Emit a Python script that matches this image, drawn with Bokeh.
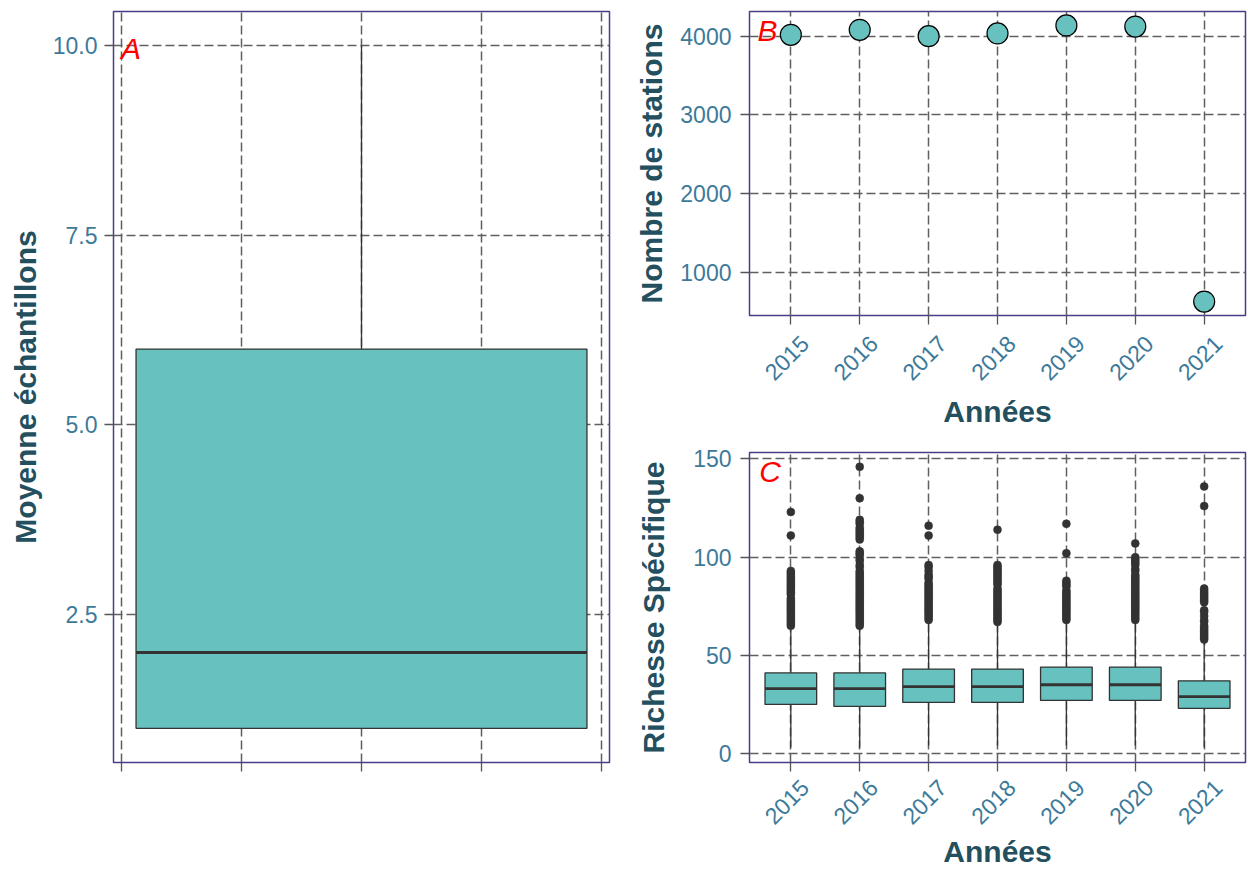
import math

from bokeh.embed import file_html
from bokeh.layouts import column, row
from bokeh.models import (FixedTicker, Label, LinearAxis, PrintfTickFormatter,
                          Range1d)
from bokeh.plotting import figure
from bokeh.resources import INLINE

FONT = "Liberation Sans"
FILL = "#66C1BF"
DARK = "#333333"
FRAME = "#483D8B"
GRID = "#5F5F5F"
TICK_TXT = "#3D7A99"
TITLE_TXT = "#234F5E"

# ---- Panel A: mean number of samples (single box) ----
a_x = [0.0]
a_low = [1.0]
a_q1 = [1.0]
a_med = [2.0]
a_q3 = [6.0]
a_high = [10.0]
a_yticks = [2.5, 5.0, 7.5, 10.0]
a_xticks = [-0.4, -0.2, 0.0, 0.2, 0.4]

# ---- Panel B: number of stations per year ----
years = [2015, 2016, 2017, 2018, 2019, 2020, 2021]
stations = [4015, 4078, 3998, 4033, 4135, 4120, 632]
b_yticks = [1000, 2000, 3000, 4000]

# ---- Panel C: species richness per year ----
c_q1 = [25, 24, 26, 26, 27, 27, 23]
c_med = [33, 33, 34, 34, 35, 35, 29]
c_q3 = [41, 41, 43, 43, 44, 44, 37]
c_low = [3, 3, 4, 4, 4, 4, 3]
c_high = [64, 64, 67, 66, 67, 67, 57]
c_yticks = [0, 50, 100, 150]
out_2015 = [65, 66, 67, 68, 69, 70, 71, 72, 73, 74, 75, 76, 77, 78, 79, 81, 82,
            83, 84, 85, 86, 87, 88, 89, 90, 91, 92, 93, 111, 123]
out_2016 = [65, 66, 67, 68, 69, 70, 71, 72, 73, 74, 75, 76, 77, 78, 79, 80, 81,
            82, 83, 84, 85, 86, 87, 88, 89, 90, 91, 92, 93, 95, 96, 98, 99, 101,
            102, 103, 109, 110, 111, 112, 113, 114, 115, 117, 118, 119, 130, 146]
out_2017 = [68, 69, 70, 71, 72, 73, 74, 75, 76, 77, 78, 79, 80, 81, 82, 83, 84,
            85, 86, 87, 89, 90, 91, 93, 95, 96, 111, 116]
out_2018 = [67, 68, 69, 70, 71, 72, 73, 74, 75, 76, 77, 78, 79, 80, 81, 82, 83,
            84, 86, 87, 88, 89, 90, 91, 92, 93, 94, 95, 96, 114]
out_2019 = [68, 69, 70, 71, 72, 73, 74, 75, 76, 77, 78, 79, 80, 81, 82, 83, 85,
            86, 87, 88, 102, 117]
out_2020 = [68, 69, 70, 71, 72, 73, 74, 75, 76, 77, 78, 79, 80, 81, 82, 83, 84,
            85, 86, 87, 88, 89, 90, 91, 93, 94, 96, 97, 98, 99, 100, 107]
out_2021 = [58, 59, 60, 61, 62, 63, 64, 65, 67, 68, 70, 72, 73, 77, 78, 79, 80,
            81, 82, 83, 84, 126, 136]
c_outliers = [out_2015, out_2016, out_2017, out_2018, out_2019, out_2020, out_2021]

X_START, X_END = 2014.4, 2021.6
# slanted year labels are centred under their tick rather than ending at it
LABEL_SHIFT = 0.2


def style_axis(ax):
    ax.axis_line_color = None
    ax.major_tick_line_color = "#555555"
    ax.major_tick_line_width = 1.3
    ax.major_tick_out = 9
    ax.major_tick_in = 0
    ax.minor_tick_line_color = None
    ax.major_label_text_font = FONT
    ax.major_label_text_font_size = "23px"
    ax.major_label_text_color = TICK_TXT
    ax.axis_label_text_font = FONT
    ax.axis_label_text_font_style = "bold"
    ax.axis_label_text_font_size = "30px"
    ax.axis_label_text_color = TITLE_TXT


def style(p, xticks, yticks, title_standoff_y, label_standoff_y=8):
    p.outline_line_color = FRAME
    p.outline_line_width = 1.5
    p.background_fill_color = "white"
    p.border_fill_color = "white"
    p.xaxis.ticker = FixedTicker(ticks=xticks)
    p.yaxis.ticker = FixedTicker(ticks=yticks)
    for ax in p.axis:
        style_axis(ax)
    p.yaxis.major_label_standoff = label_standoff_y
    p.yaxis.axis_label_standoff = title_standoff_y
    for g in (p.xgrid, p.ygrid):
        g.grid_line_color = GRID
        g.grid_line_width = 1.5
        g.grid_line_dash = "9 4"
    p.xgrid.ticker = FixedTicker(ticks=xticks)
    p.ygrid.ticker = FixedTicker(ticks=yticks)


def year_axis(p, label_standoff, title_standoff):
    # the main axis draws the tick marks; a second axis on a shifted range
    # carries the slanted year labels and the title
    p.xaxis.major_label_overrides = {y: "" for y in years}
    p.xaxis.major_label_standoff = 0
    p.extra_x_ranges = {"labels": Range1d(X_START - LABEL_SHIFT, X_END - LABEL_SHIFT)}
    lab = LinearAxis(x_range_name="labels", ticker=FixedTicker(ticks=years))
    style_axis(lab)
    lab.major_tick_line_color = None
    lab.major_tick_out = 0
    lab.major_label_orientation = math.pi / 4
    lab.major_label_standoff = label_standoff
    lab.axis_label = "Années"
    lab.axis_label_standoff = title_standoff
    p.add_layout(lab, "below")


def panel_label(p, text, x, y):
    p.add_layout(Label(x=x, y=y, text=text, text_color="red",
                       text_font=FONT, text_font_style="italic",
                       text_font_size="30px", text_align="center",
                       text_baseline="alphabetic"))


# ---------------- Panel A ----------------
pA = figure(frame_width=496, frame_height=751, output_backend="svg",
            toolbar_location=None, x_range=Range1d(-0.4125, 0.4125),
            y_range=Range1d(0.55, 10.45),
            min_border_left=113, min_border_right=16,
            min_border_top=11, min_border_bottom=107)
style(pA, a_xticks, a_yticks, title_standoff_y=8, label_standoff_y=7)
pA.yaxis.axis_label = "Moyenne échantillons"
pA.yaxis.formatter = PrintfTickFormatter(format="%.1f")
pA.xaxis.major_label_overrides = {t: "" for t in a_xticks}
pA.segment(x0=a_x, x1=a_x, y0=a_q3, y1=a_high, line_color=DARK, line_width=1.3)
pA.segment(x0=a_x, x1=a_x, y0=a_low, y1=a_q1, line_color=DARK, line_width=1.3)
pA.vbar(x=a_x, width=0.75, bottom=a_q1, top=a_q3, fill_color=FILL,
        line_color=DARK, line_width=1.3)
pA.segment(x0=[v - 0.375 for v in a_x], x1=[v + 0.375 for v in a_x],
           y0=a_med, y1=a_med, line_color=DARK, line_width=3)
panel_label(pA, "A", -0.3834, 9.96)

# ---------------- Panel B ----------------
pB = figure(frame_width=496, frame_height=304, output_backend="svg",
            toolbar_location=None, x_range=Range1d(X_START, X_END),
            y_range=Range1d(455, 4311),
            min_border_left=124, min_border_right=3,
            min_border_top=11, min_border_bottom=125)
style(pB, years, b_yticks, title_standoff_y=9, label_standoff_y=9)
pB.yaxis.axis_label = "Nombre de stations"
year_axis(pB, 15, 4)
pB.scatter(x=years, y=stations, marker="circle", size=21, fill_color=FILL,
           line_color="black", line_width=1.2)
panel_label(pB, "B", 2014.66, 4071)

# ---------------- Panel C ----------------
pC = figure(frame_width=496, frame_height=310, output_backend="svg",
            toolbar_location=None, x_range=Range1d(X_START, X_END),
            y_range=Range1d(-4.6, 153.3),
            min_border_left=124, min_border_right=3,
            min_border_top=12, min_border_bottom=107)
style(pC, years, c_yticks, title_standoff_y=20, label_standoff_y=9)
pC.yaxis.axis_label = "Richesse Spécifique"
year_axis(pC, 12, 0)
pC.segment(x0=years, x1=years, y0=c_q3, y1=c_high, line_color=DARK, line_width=1.3)
pC.segment(x0=years, x1=years, y0=c_low, y1=c_q1, line_color=DARK, line_width=1.3)
pC.vbar(x=years, width=0.75, bottom=c_q1, top=c_q3, fill_color=FILL,
        line_color=DARK, line_width=1.3)
pC.segment(x0=[y - 0.375 for y in years], x1=[y + 0.375 for y in years],
           y0=c_med, y1=c_med, line_color=DARK, line_width=2.8)
ox, oy = [], []
for yr, vals in zip(years, c_outliers):
    ox.extend([yr] * len(vals))
    oy.extend(vals)
pC.scatter(x=ox, y=oy, marker="circle", size=8, fill_color=DARK,
           line_color=DARK, line_width=0.5)
panel_label(pC, "C", 2014.70, 143.6)

layout = row(pA, column(pB, pC))
open("out.html", "w").write(file_html(layout, INLINE))
